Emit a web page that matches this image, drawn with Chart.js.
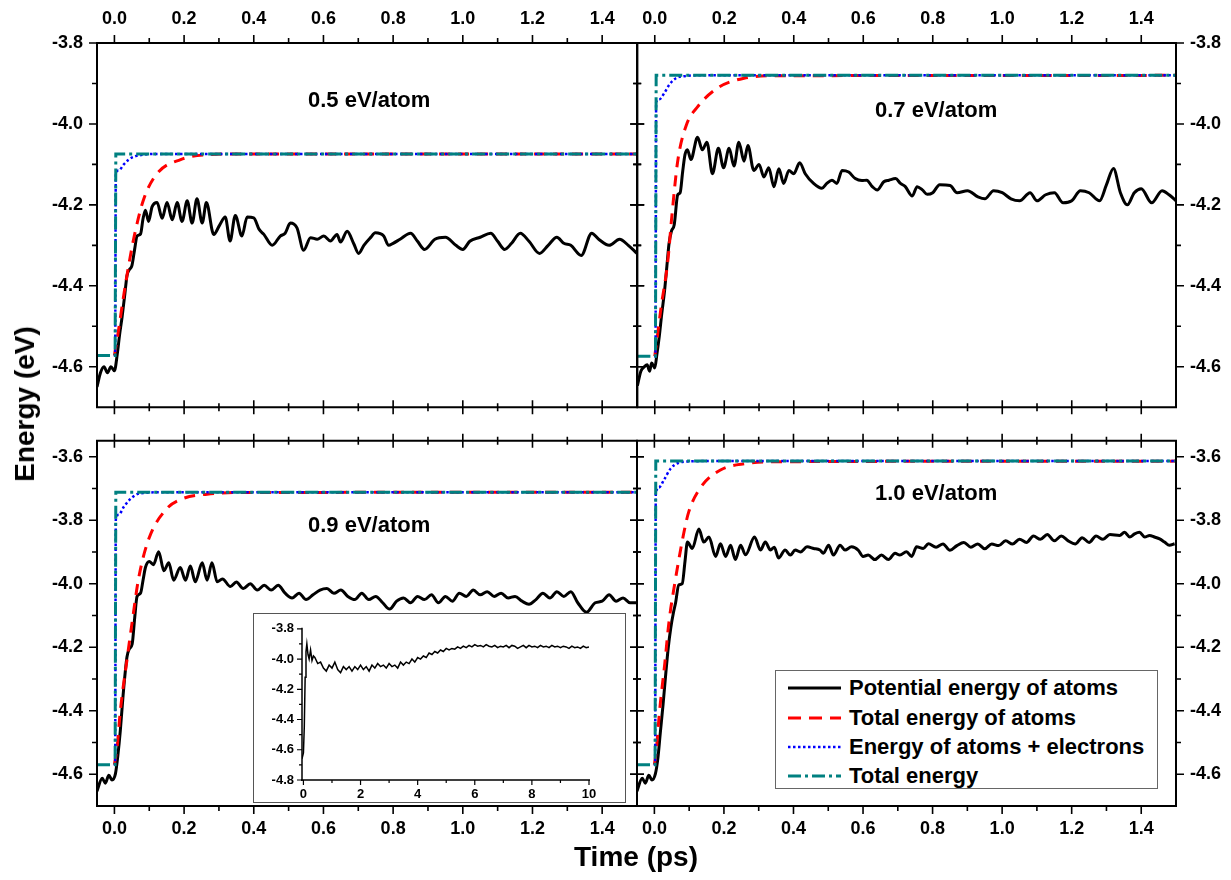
<!DOCTYPE html>
<html lang="en">
<head>
<meta charset="UTF-8">
<title>Energy vs time</title>
<script src="https://cdn.jsdelivr.net/npm/chart.js"></script>
<style>
  body { margin: 0; background: #fff; font-family: "Liberation Sans", Arial, sans-serif; }
  #wrap { position: relative; width: 1231px; height: 880px; overflow: hidden; background: #fff; }
  canvas { position: absolute; }
  .lbl { position: absolute; font-weight: bold; font-size: 22px; line-height: 24px; white-space: nowrap; color: #000; }
  .title { position: absolute; font-weight: bold; font-size: 28px; white-space: nowrap; transform: translate(-50%, -50%); }
  #ytitle { transform: translate(-50%, -50%) rotate(-90deg); }
  #inbox { position: absolute; left: 253px; top: 613px; width: 371px; height: 188px; border: 1.5px solid #555; background: #fff; }
  #legend { position: absolute; left: 775px; top: 670px; width: 381px; height: 117px; border: 1.5px solid #666; background: #fff; }
  #legend svg { position: absolute; left: 12px; }
  #legend span { position: absolute; left: 73px; font-weight: bold; font-size: 22px; line-height: 24px; white-space: nowrap; }
</style>
</head>
<body>
<div id="wrap">
  <canvas id="tl" width="645" height="432" style="left:0;top:0"></canvas>
  <canvas id="tr" width="602" height="432" style="left:629px;top:0"></canvas>
  <canvas id="bl" width="645" height="464" style="left:0;top:416px"></canvas>
  <canvas id="br" width="602" height="464" style="left:629px;top:416px"></canvas>

  <div class="lbl" style="left:308px;top:88px">0.5 eV/atom</div>
  <div class="lbl" style="left:875px;top:98px">0.7 eV/atom</div>
  <div class="lbl" style="left:308px;top:513px">0.9 eV/atom</div>
  <div class="lbl" style="left:875px;top:481px">1.0 eV/atom</div>

  <div id="inbox"></div>
  <canvas id="inset" width="373" height="190" style="left:253px;top:613px"></canvas>

  <div id="legend">
    <svg width="56" height="10" style="top:12px"><line x1="0" y1="5" x2="53" y2="5" stroke="#000" stroke-width="3"/></svg>
    <span style="top:5px">Potential energy of atoms</span>
    <svg width="56" height="10" style="top:42px"><line x1="0" y1="5" x2="53" y2="5" stroke="#ff0000" stroke-width="3" stroke-dasharray="13 8"/></svg>
    <span style="top:35px">Total energy of atoms</span>
    <svg width="56" height="10" style="top:71px"><line x1="0" y1="5" x2="53" y2="5" stroke="#0000ff" stroke-width="2.5" stroke-dasharray="2.5 2.5"/></svg>
    <span style="top:64px">Energy of atoms + electrons</span>
    <svg width="56" height="10" style="top:100px"><line x1="0" y1="5" x2="53" y2="5" stroke="#008080" stroke-width="3" stroke-dasharray="13 4 3 4"/></svg>
    <span style="top:93px">Total energy</span>
  </div>

  <div class="title" id="ytitle" style="left:25px;top:404px">Energy (eV)</div>
  <div class="title" style="left:636px;top:857px">Time (ps)</div>
</div>

<script>
// tick labels
const timeTicks = [0, 0.2, 0.4, 0.6, 0.8, 1.0, 1.2, 1.4];
const topTicks = [-4.6, -4.4, -4.2, -4.0, -3.8];
const bottomTicks = [-4.6, -4.4, -4.2, -4.0, -3.8, -3.6];
const insetXTicks = [0, 2, 4, 6, 8, 10];
const insetYTicks = [-4.8, -4.6, -4.4, -4.2, -4.0, -3.8];

// 0.5 eV/atom  [time ps, energy eV]
const black05 = [[-0.05,-4.65],[-0.04,-4.615],[-0.03,-4.60],[-0.02,-4.615],[-0.01,-4.60],[0.0,-4.61],[0.008,-4.57],[0.015,-4.52],[0.022,-4.477],[0.03,-4.42],[0.036,-4.375],[0.043,-4.36],[0.05,-4.351],[0.058,-4.31],[0.065,-4.277],[0.075,-4.272],[0.082,-4.235],[0.089,-4.213],[0.098,-4.241],[0.108,-4.205],[0.1225,-4.194],[0.137,-4.233],[0.151,-4.194],[0.166,-4.237],[0.18,-4.194],[0.194,-4.241],[0.209,-4.19],[0.223,-4.245],[0.237,-4.185],[0.252,-4.245],[0.264,-4.194],[0.285,-4.273],[0.302,-4.25],[0.318,-4.23],[0.332,-4.289],[0.347,-4.226],[0.366,-4.277],[0.381,-4.23],[0.40,-4.232],[0.415,-4.26],[0.429,-4.273],[0.453,-4.30],[0.476,-4.277],[0.49,-4.27],[0.505,-4.245],[0.524,-4.257],[0.543,-4.312],[0.563,-4.281],[0.582,-4.285],[0.601,-4.277],[0.62,-4.289],[0.639,-4.273],[0.649,-4.292],[0.668,-4.265],[0.687,-4.296],[0.701,-4.32],[0.716,-4.30],[0.735,-4.281],[0.749,-4.269],[0.773,-4.277],[0.787,-4.30],[0.80,-4.295],[0.82,-4.285],[0.85,-4.27],[0.87,-4.29],[0.89,-4.31],[0.92,-4.285],[0.95,-4.28],[0.98,-4.30],[1.0,-4.31],[1.02,-4.29],[1.05,-4.28],[1.08,-4.27],[1.1,-4.29],[1.12,-4.31],[1.14,-4.295],[1.165,-4.27],[1.19,-4.29],[1.22,-4.32],[1.245,-4.30],[1.27,-4.28],[1.29,-4.295],[1.31,-4.30],[1.34,-4.325],[1.37,-4.27],[1.39,-4.285],[1.42,-4.30],[1.45,-4.285],[1.475,-4.30],[1.5,-4.32]];
const red05 = [[0,-4.572],[0.01,-4.52],[0.027,-4.422],[0.045,-4.33],[0.06,-4.265],[0.084,-4.186],[0.122,-4.123],[0.19,-4.088],[0.266,-4.076],[0.35,-4.074],[1.5,-4.074]];
const blue05 = [[-0.002,-4.572],[0.002,-4.572],[0.004,-4.123],[0.012,-4.115],[0.027,-4.10],[0.041,-4.088],[0.06,-4.08],[0.084,-4.076],[0.12,-4.074],[1.5,-4.074]];
const teal05 = [[-0.05,-4.572],[0.002,-4.572],[0.004,-4.074],[1.5,-4.074]];

// 0.7 eV/atom
const black07 = [[-0.05,-4.647],[-0.04,-4.611],[-0.03,-4.60],[-0.022,-4.595],[-0.015,-4.611],[-0.009,-4.591],[0.0,-4.603],[0.006,-4.57],[0.013,-4.525],[0.02,-4.47],[0.028,-4.414],[0.035,-4.35],[0.041,-4.296],[0.048,-4.265],[0.056,-4.249],[0.066,-4.175],[0.073,-4.17],[0.08,-4.12],[0.087,-4.076],[0.094,-4.064],[0.104,-4.088],[0.123,-4.033],[0.137,-4.064],[0.150,-4.045],[0.166,-4.123],[0.183,-4.06],[0.198,-4.108],[0.214,-4.06],[0.228,-4.104],[0.242,-4.045],[0.257,-4.092],[0.268,-4.053],[0.285,-4.115],[0.30,-4.10],[0.314,-4.131],[0.328,-4.108],[0.343,-4.155],[0.357,-4.111],[0.371,-4.147],[0.386,-4.115],[0.40,-4.123],[0.417,-4.096],[0.433,-4.123],[0.457,-4.147],[0.481,-4.159],[0.495,-4.147],[0.51,-4.139],[0.524,-4.147],[0.539,-4.115],[0.558,-4.119],[0.577,-4.135],[0.596,-4.14],[0.61,-4.139],[0.626,-4.155],[0.64,-4.163],[0.659,-4.143],[0.674,-4.139],[0.693,-4.135],[0.707,-4.147],[0.721,-4.155],[0.741,-4.178],[0.755,-4.155],[0.77,-4.163],[0.784,-4.174],[0.80,-4.17],[0.82,-4.15],[0.85,-4.152],[0.87,-4.17],[0.9,-4.165],[0.93,-4.18],[0.95,-4.185],[0.975,-4.165],[1.0,-4.17],[1.025,-4.185],[1.05,-4.19],[1.08,-4.17],[1.1,-4.19],[1.125,-4.175],[1.15,-4.17],[1.175,-4.195],[1.2,-4.19],[1.225,-4.165],[1.25,-4.17],[1.28,-4.19],[1.30,-4.15],[1.32,-4.11],[1.34,-4.17],[1.36,-4.20],[1.38,-4.17],[1.40,-4.16],[1.43,-4.195],[1.46,-4.165],[1.48,-4.175],[1.5,-4.19]];
const red07 = [[0,-4.574],[0.004,-4.548],[0.018,-4.454],[0.037,-4.343],[0.05,-4.22],[0.066,-4.092],[0.09,-4.005],[0.123,-3.958],[0.181,-3.911],[0.257,-3.887],[0.35,-3.881],[1.5,-3.88]];
const blue07 = [[-0.002,-4.574],[0.002,-4.574],[0.004,-3.946],[0.013,-3.939],[0.028,-3.923],[0.042,-3.903],[0.061,-3.887],[0.084,-3.882],[0.12,-3.88],[1.5,-3.88]];
const teal07 = [[-0.05,-4.574],[0.002,-4.574],[0.004,-3.88],[1.5,-3.88]];

// 0.9 eV/atom
const black09 = [[-0.05,-4.653],[-0.035,-4.613],[-0.026,-4.628],[-0.016,-4.603],[-0.007,-4.618],[0.003,-4.598],[0.01,-4.54],[0.017,-4.462],[0.025,-4.35],[0.036,-4.231],[0.043,-4.205],[0.051,-4.19],[0.058,-4.11],[0.065,-4.04],[0.075,-4.03],[0.082,-3.99],[0.089,-3.949],[0.1,-3.93],[0.112,-3.94],[0.127,-3.899],[0.142,-3.959],[0.156,-3.934],[0.17,-3.989],[0.189,-3.949],[0.204,-3.989],[0.218,-3.944],[0.232,-3.994],[0.252,-3.934],[0.266,-3.989],[0.28,-3.934],[0.295,-3.994],[0.31,-3.985],[0.333,-4.009],[0.35,-3.995],[0.37,-4.015],[0.39,-4.0],[0.41,-4.02],[0.43,-4.005],[0.45,-4.02],[0.47,-4.005],[0.49,-4.03],[0.51,-4.045],[0.53,-4.03],[0.55,-4.05],[0.57,-4.035],[0.59,-4.02],[0.61,-4.015],[0.63,-4.03],[0.65,-4.02],[0.67,-4.04],[0.69,-4.05],[0.71,-4.03],[0.73,-4.05],[0.75,-4.04],[0.77,-4.06],[0.79,-4.08],[0.81,-4.055],[0.83,-4.045],[0.85,-4.06],[0.87,-4.04],[0.89,-4.05],[0.91,-4.035],[0.93,-4.06],[0.95,-4.04],[0.97,-4.055],[0.99,-4.03],[1.01,-4.04],[1.03,-4.02],[1.05,-4.035],[1.07,-4.025],[1.09,-4.04],[1.11,-4.03],[1.13,-4.045],[1.15,-4.04],[1.17,-4.055],[1.19,-4.065],[1.21,-4.05],[1.23,-4.03],[1.25,-4.045],[1.27,-4.025],[1.29,-4.04],[1.31,-4.025],[1.33,-4.06],[1.355,-4.09],[1.38,-4.06],[1.4,-4.055],[1.42,-4.035],[1.44,-4.055],[1.46,-4.045],[1.48,-4.06],[1.5,-4.06]];
const red09 = [[0,-4.57],[0.008,-4.512],[0.017,-4.40],[0.036,-4.24],[0.051,-4.12],[0.07,-3.98],[0.099,-3.858],[0.151,-3.763],[0.194,-3.733],[0.266,-3.718],[0.35,-3.713],[1.5,-3.712]];
const blue09 = [[-0.002,-4.57],[0.002,-4.57],[0.004,-3.798],[0.012,-3.783],[0.027,-3.758],[0.046,-3.733],[0.065,-3.718],[0.09,-3.714],[0.12,-3.712],[1.5,-3.712]];
const teal09 = [[-0.05,-4.57],[0.002,-4.57],[0.004,-3.712],[1.5,-3.712]];

// 1.0 eV/atom
const black10 = [[-0.05,-4.653],[-0.035,-4.613],[-0.026,-4.628],[-0.016,-4.603],[-0.007,-4.618],[0.003,-4.598],[0.01,-4.55],[0.017,-4.47],[0.025,-4.38],[0.033,-4.28],[0.04,-4.2],[0.047,-4.14],[0.055,-4.09],[0.061,-4.06],[0.07,-4.004],[0.08,-4.0],[0.088,-3.93],[0.095,-3.869],[0.109,-3.889],[0.128,-3.828],[0.142,-3.869],[0.157,-3.853],[0.176,-3.914],[0.19,-3.874],[0.205,-3.914],[0.219,-3.879],[0.233,-3.924],[0.248,-3.879],[0.262,-3.909],[0.288,-3.853],[0.305,-3.894],[0.319,-3.869],[0.334,-3.894],[0.345,-3.885],[0.357,-3.919],[0.376,-3.894],[0.391,-3.91],[0.405,-3.894],[0.42,-3.9],[0.439,-3.884],[0.458,-3.889],[0.476,-3.894],[0.486,-3.904],[0.501,-3.879],[0.515,-3.91],[0.534,-3.879],[0.548,-3.894],[0.567,-3.884],[0.586,-3.894],[0.6,-3.914],[0.615,-3.91],[0.634,-3.924],[0.653,-3.91],[0.673,-3.924],[0.692,-3.904],[0.706,-3.91],[0.725,-3.899],[0.74,-3.914],[0.754,-3.884],[0.773,-3.889],[0.788,-3.874],[0.81,-3.885],[0.83,-3.875],[0.85,-3.895],[0.87,-3.88],[0.89,-3.87],[0.91,-3.885],[0.93,-3.875],[0.95,-3.89],[0.97,-3.875],[0.99,-3.88],[1.01,-3.865],[1.03,-3.875],[1.05,-3.86],[1.07,-3.87],[1.09,-3.85],[1.11,-3.86],[1.13,-3.845],[1.15,-3.865],[1.17,-3.85],[1.19,-3.865],[1.21,-3.875],[1.23,-3.855],[1.25,-3.87],[1.27,-3.85],[1.29,-3.86],[1.31,-3.845],[1.338,-3.848],[1.352,-3.838],[1.367,-3.853],[1.381,-3.843],[1.395,-3.838],[1.41,-3.853],[1.424,-3.848],[1.438,-3.853],[1.453,-3.859],[1.467,-3.869],[1.481,-3.879],[1.496,-3.874]];
const red10 = [[0,-4.57],[0.005,-4.53],[0.015,-4.40],[0.03,-4.25],[0.042,-4.12],[0.06,-3.99],[0.085,-3.838],[0.099,-3.773],[0.133,-3.697],[0.19,-3.642],[0.262,-3.622],[0.35,-3.616],[1.5,-3.614]];
const blue10 = [[-0.002,-4.57],[0.002,-4.57],[0.004,-3.718],[0.013,-3.697],[0.028,-3.672],[0.047,-3.637],[0.07,-3.619],[0.1,-3.615],[0.13,-3.614],[1.5,-3.614]];
const teal10 = [[-0.05,-4.57],[0.002,-4.57],[0.004,-3.614],[1.5,-3.614]];

// inset, 0.9 eV/atom up to 10 ps
const insetLine = [[-0.05,-4.66],[0.0,-4.62],[0.03,-4.45],[0.06,-4.12],[0.09,-3.95],[0.12,-3.90],[0.16,-3.97],[0.2,-4.00],[0.25,-3.94],[0.3,-4.01],[0.35,-3.98],[0.4,-3.99],[0.5,-4.03],[0.6,-4.02],[0.7,-4.06],[0.8,-4.08],[0.9,-4.04],[1.0,-4.06],[1.1,-4.02],[1.2,-4.07],[1.3,-4.09],[1.4,-4.05],[1.5,-4.07],[1.6,-4.05],[1.7,-4.08],[1.8,-4.05],[1.9,-4.07],[2.0,-4.04],[2.1,-4.07],[2.2,-4.05],[2.3,-4.08],[2.4,-4.04],[2.5,-4.06],[2.6,-4.03],[2.7,-4.05],[2.8,-4.04],[2.9,-4.06],[3.0,-4.03],[3.1,-4.05],[3.2,-4.04],[3.3,-4.06],[3.4,-4.02],[3.5,-4.04],[3.6,-4.02],[3.7,-4.03],[3.8,-4.0],[3.9,-4.02],[4.0,-3.99],[4.1,-4.0],[4.2,-3.98],[4.3,-3.99],[4.4,-3.96],[4.5,-3.97],[4.6,-3.95],[4.7,-3.96],[4.8,-3.94],[4.9,-3.95],[5.0,-3.93],[5.1,-3.94],[5.2,-3.93],[5.3,-3.935],[5.4,-3.92],[5.5,-3.93],[5.6,-3.915],[5.7,-3.925],[5.8,-3.91],[5.9,-3.92],[6.0,-3.905],[6.1,-3.915],[6.2,-3.91],[6.3,-3.92],[6.4,-3.905],[6.5,-3.915],[6.6,-3.92],[6.7,-3.91],[6.8,-3.925],[6.9,-3.915],[7.0,-3.92],[7.1,-3.91],[7.2,-3.925],[7.3,-3.91],[7.4,-3.915],[7.5,-3.93],[7.6,-3.92],[7.7,-3.91],[7.8,-3.925],[7.9,-3.91],[8.0,-3.92],[8.1,-3.915],[8.2,-3.925],[8.3,-3.91],[8.4,-3.92],[8.5,-3.915],[8.6,-3.925],[8.7,-3.91],[8.8,-3.92],[8.9,-3.915],[9.0,-3.925],[9.1,-3.915],[9.2,-3.92],[9.3,-3.93],[9.4,-3.915],[9.5,-3.925],[9.6,-3.92],[9.7,-3.93],[9.8,-3.915],[9.9,-3.925],[10.0,-3.92]];

Chart.defaults.font.family = "'Liberation Sans', Arial, sans-serif";
Chart.defaults.color = '#000';

// frame + major/minor ticks, drawn through the chart's own scales
const framePlugin = {
  id: 'frame',
  afterDraw(chart, args, o) {
    const { ctx, chartArea: a } = chart;
    const xs = chart.scales.x, ys = chart.scales.y;
    const mids = arr => arr.slice(1).map((v, i) => (v + arr[i]) / 2);
    ctx.save();
    ctx.strokeStyle = '#000';
    ctx.lineWidth = o.lw;
    ctx.beginPath();
    for (const side in o.sides) {
      if (side === 'top') { ctx.moveTo(a.left - 1, a.top); ctx.lineTo(a.right + 1, a.top); }
      if (side === 'bottom') { ctx.moveTo(a.left - 1, a.bottom); ctx.lineTo(a.right + 1, a.bottom); }
      if (side === 'left') { ctx.moveTo(a.left, a.top - 1); ctx.lineTo(a.left, a.bottom + 1); }
      if (side === 'right') { ctx.moveTo(a.right, a.top - 1); ctx.lineTo(a.right, a.bottom + 1); }
    }
    ctx.stroke();
    ctx.lineWidth = o.tw;
    ctx.beginPath();
    const mark = (side, p, len) => {
      const mode = o.sides[side];
      const dir = (side === 'top' || side === 'left') ? -1 : 1;
      const edge = { top: a.top, bottom: a.bottom, left: a.left, right: a.right }[side];
      const from = mode === 'cross' ? edge - len : edge;
      const to = mode === 'cross' ? edge + len : edge + dir * len;
      if (side === 'top' || side === 'bottom') { ctx.moveTo(p, from); ctx.lineTo(p, to); }
      else { ctx.moveTo(from, p); ctx.lineTo(to, p); }
    };
    for (const side in o.sides) {
      const horiz = side === 'top' || side === 'bottom';
      const sc = horiz ? xs : ys;
      const major = horiz ? o.xTicks : o.yTicks;
      const cross = o.sides[side] === 'cross';
      major.forEach(v => mark(side, sc.getPixelForValue(v), cross ? o.crossMajor : o.major));
      mids(major).forEach(v => mark(side, sc.getPixelForValue(v), cross ? o.crossMinor : o.minor));
    }
    ctx.stroke();
    ctx.restore();
  }
};

function series(pts, style) {
  return Object.assign({ data: pts.map(p => ({ x: p[0], y: p[1] })), pointRadius: 0, fill: false }, style);
}
const styleBlack = { borderColor: '#000', borderWidth: 3, order: 3, cubicInterpolationMode: 'monotone', borderJoinStyle: 'round' };
const styleRed = { borderColor: '#ff0000', borderWidth: 3, borderDash: [11, 8], order: 2, cubicInterpolationMode: 'monotone' };
const styleBlue = { borderColor: '#0000ff', borderWidth: 2.5, borderDash: [2.5, 2.5], order: 1, cubicInterpolationMode: 'monotone' };
const styleTeal = { borderColor: '#008080', borderWidth: 3, borderDash: [13, 4, 3, 4], order: 0, tension: 0 };

function panel(id, sets, o) {
  return new Chart(document.getElementById(id), {
    type: 'line',
    data: {
      datasets: [
        series(sets[3], styleTeal),
        series(sets[2], styleBlue),
        series(sets[1], styleRed),
        series(sets[0], styleBlack)
      ]
    },
    options: {
      responsive: false,
      animation: false,
      layout: { padding: o.pad },
      plugins: {
        legend: { display: false },
        tooltip: { enabled: false },
        frame: { sides: o.sides, xTicks: timeTicks, yTicks: o.yTicks, lw: 2, tw: 1.6, major: 8, minor: 5, crossMajor: 7, crossMinor: 4 }
      },
      scales: {
        x: {
          type: 'linear', position: o.xPos, min: -0.05, max: 1.5,
          afterBuildTicks: s => { s.ticks = timeTicks.map(v => ({ value: v })); },
          afterFit: s => { s.height = o.xH; },
          grid: { display: false, drawTicks: false }, border: { display: false },
          ticks: { padding: o.xPad, font: { size: 18, weight: 'bold' }, maxRotation: 0, autoSkip: false, callback: v => v.toFixed(1) }
        },
        y: {
          type: 'linear', position: o.yPos, min: o.yMin, max: o.yMax,
          afterBuildTicks: s => { s.ticks = o.yTicks.map(v => ({ value: v })); },
          afterFit: s => { s.width = o.yW; },
          grid: { display: false, drawTicks: false }, border: { display: false },
          ticks: { padding: 14, font: { size: 18, weight: 'bold' }, autoSkip: false, callback: v => v.toFixed(1) }
        }
      }
    },
    plugins: [framePlugin]
  });
}

panel('tl', [black05, red05, blue05, teal05], {
  pad: { top: 0, left: 0, right: 8, bottom: 8 }, xPos: 'top', xH: 43, xPad: 13, yPos: 'left', yW: 97,
  yMin: -4.70, yMax: -3.80, yTicks: topTicks,
  sides: { top: 'out', left: 'out', right: 'cross', bottom: 'cross' }
});
panel('tr', [black07, red07, blue07, teal07], {
  pad: { top: 0, left: 8, right: 0, bottom: 8 }, xPos: 'top', xH: 43, xPad: 13, yPos: 'right', yW: 55,
  yMin: -4.70, yMax: -3.80, yTicks: topTicks,
  sides: { top: 'out', right: 'out', left: 'cross', bottom: 'cross' }
});
panel('bl', [black09, red09, blue09, teal09], {
  pad: { top: 8, left: 0, right: 8, bottom: 0 }, xPos: 'bottom', xH: 74, xPad: 12, yPos: 'left', yW: 97,
  yMin: -4.70, yMax: -3.55, yTicks: bottomTicks,
  sides: { bottom: 'out', left: 'out', right: 'cross', top: 'cross' }
});
panel('br', [black10, red10, blue10, teal10], {
  pad: { top: 8, left: 8, right: 0, bottom: 0 }, xPos: 'bottom', xH: 74, xPad: 12, yPos: 'right', yW: 55,
  yMin: -4.70, yMax: -3.55, yTicks: bottomTicks,
  sides: { bottom: 'out', right: 'out', left: 'cross', top: 'cross' }
});

// inset
new Chart(document.getElementById('inset'), {
  type: 'line',
  data: { datasets: [series(insetLine, { borderColor: '#000', borderWidth: 1.5, tension: 0 })] },
  options: {
    responsive: false,
    animation: false,
    layout: { padding: { top: 15, right: 37, left: 0, bottom: 0 } },
    plugins: {
      legend: { display: false },
      tooltip: { enabled: false },
      frame: { sides: { left: 'out', bottom: 'out' }, xTicks: insetXTicks, yTicks: insetYTicks, lw: 1.5, tw: 1.2, major: 5, minor: 3, crossMajor: 0, crossMinor: 0 }
    },
    scales: {
      x: {
        type: 'linear', position: 'bottom', min: -0.05, max: 10,
        afterBuildTicks: s => { s.ticks = insetXTicks.map(v => ({ value: v })); },
        afterFit: s => { s.height = 23; },
        grid: { display: false, drawTicks: false }, border: { display: false },
        ticks: { padding: 7, font: { size: 13, weight: 'bold' }, maxRotation: 0, autoSkip: false }
      },
      y: {
        type: 'linear', position: 'left', min: -4.8, max: -3.8,
        afterBuildTicks: s => { s.ticks = insetYTicks.map(v => ({ value: v })); },
        afterFit: s => { s.width = 49; },
        grid: { display: false, drawTicks: false }, border: { display: false },
        ticks: { padding: 8, font: { size: 13, weight: 'bold' }, autoSkip: false, callback: v => v.toFixed(1) }
      }
    }
  },
  plugins: [framePlugin]
});
</script>
</body>
</html>
